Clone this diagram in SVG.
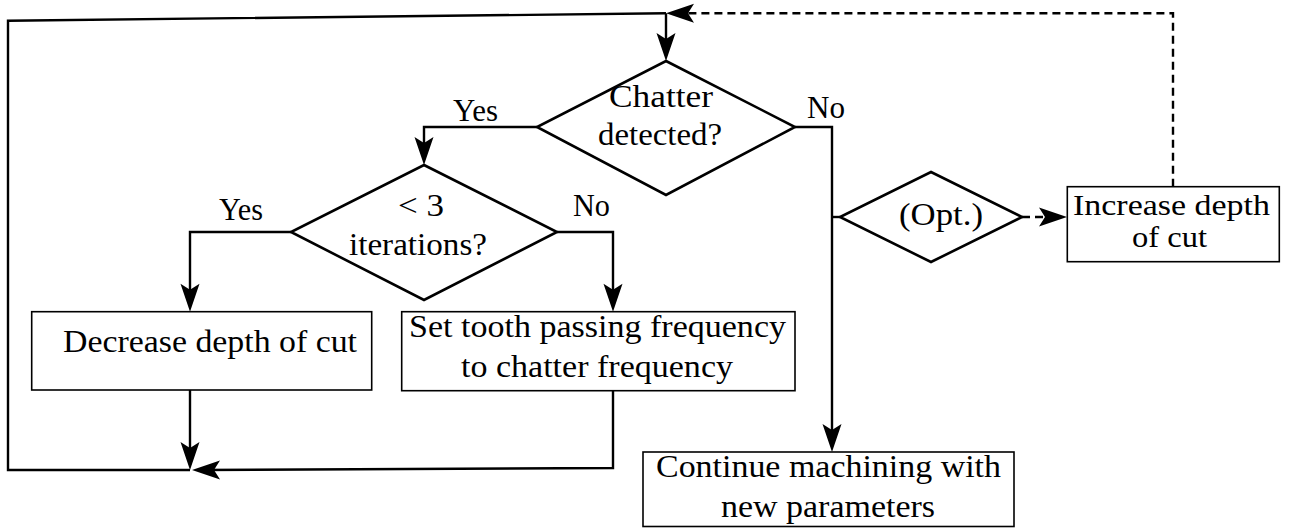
<svg xmlns="http://www.w3.org/2000/svg" width="1291" height="528" viewBox="0 0 1291 528">
<style>
.box{fill:#fff;stroke:#000;stroke-width:1.6}
.dia{fill:#fff;stroke:#000;stroke-width:2.6;stroke-linejoin:miter}
.ln{fill:none;stroke:#000;stroke-width:2.4}
.dash{stroke-dasharray:8 5}
.t{font-family:"Liberation Serif","Times New Roman",serif;font-size:31px;fill:#000}
.ts{font-size:29px}
</style>
<defs>
<marker id="ah" markerUnits="userSpaceOnUse" viewBox="-30 -11 32 22" refX="-8" refY="0" markerWidth="32" markerHeight="22" orient="auto">
<path d="M0,0 L-28,-9.5 L-22,0 L-28,9.5 Z" fill="#000"/>
</marker>
</defs>
<g id="connectors">
<path class="ln" d="M666,13.3 L8,20.7 L8,470 L190,470"/>
<path class="ln" d="M666,13.3 L666,53" marker-end="url(#ah)"/>
<path class="ln dash" d="M1173,186.7 L1173,13.3 L674,13.3" marker-end="url(#ah)"/>
<path class="ln" d="M537,127 L424,127 L424,157" marker-end="url(#ah)"/>
<path class="ln" d="M795,127 L832,127 L832,444" marker-end="url(#ah)"/>
<path class="ln" d="M291,232 L190,232 L190,303.7" marker-end="url(#ah)"/>
<path class="ln" d="M557,232 L613,232 L613,303.7" marker-end="url(#ah)"/>
<path class="ln" d="M190,390 L190,462" marker-end="url(#ah)"/>
<path class="ln" d="M613,390.7 L613,468 L200,470" marker-end="url(#ah)"/>
<path class="ln" d="M832,217 L840,217"/>
<path class="ln dash" d="M1022,217 L1059,217" marker-end="url(#ah)"/>
</g>
<g id="chatter">
<polygon class="dia" points="666,61 795,127 666,195 537,127"/>
<text class="t" x="609" y="106.7" textLength="104" lengthAdjust="spacingAndGlyphs">Chatter</text>
<text class="t" x="598" y="145" textLength="124" lengthAdjust="spacingAndGlyphs">detected?</text>
</g>
<g id="iterations">
<polygon class="dia" points="424,165 557,232 424,300 291,232"/>
<text class="t" x="398" y="216" textLength="46" lengthAdjust="spacingAndGlyphs">&lt; 3</text>
<text class="t" x="349" y="255" textLength="138" lengthAdjust="spacingAndGlyphs">iterations?</text>
</g>
<g id="opt">
<polygon class="dia" points="931,172 1022,217 931,262 840,217"/>
<text class="t" x="899" y="225" textLength="84" lengthAdjust="spacingAndGlyphs">(Opt.)</text>
</g>
<g id="decrease">
<rect class="box" x="31.7" y="311.7" width="340" height="78.3"/>
<text class="t" x="63" y="351.7" textLength="294" lengthAdjust="spacingAndGlyphs">Decrease depth of cut</text>
</g>
<g id="settooth">
<rect class="box" x="401.7" y="311.7" width="393.3" height="79"/>
<text class="t" x="409" y="336.7" textLength="377" lengthAdjust="spacingAndGlyphs">Set tooth passing frequency</text>
<text class="t" x="461" y="376.7" textLength="272" lengthAdjust="spacingAndGlyphs">to chatter frequency</text>
</g>
<g id="continue">
<rect class="box" x="643" y="452" width="371" height="74.5"/>
<text class="t" x="656" y="476.7" textLength="345" lengthAdjust="spacingAndGlyphs">Continue machining with</text>
<text class="t" x="721" y="516.7" textLength="214" lengthAdjust="spacingAndGlyphs">new parameters</text>
</g>
<g id="increase">
<rect class="box" x="1067.3" y="186.7" width="212" height="75"/>
<text class="t ts" x="1073" y="214.5" textLength="197" lengthAdjust="spacingAndGlyphs">Increase depth</text>
<text class="t ts" x="1132" y="247" textLength="75" lengthAdjust="spacingAndGlyphs">of cut</text>
</g>
<g id="labels">
<text class="t" x="453" y="121" textLength="45" lengthAdjust="spacingAndGlyphs">Yes</text>
<text class="t" x="807" y="117.5" textLength="38" lengthAdjust="spacingAndGlyphs">No</text>
<text class="t" x="219" y="220" textLength="44" lengthAdjust="spacingAndGlyphs">Yes</text>
<text class="t" x="573" y="215.5" textLength="37" lengthAdjust="spacingAndGlyphs">No</text>
</g>
</svg>
